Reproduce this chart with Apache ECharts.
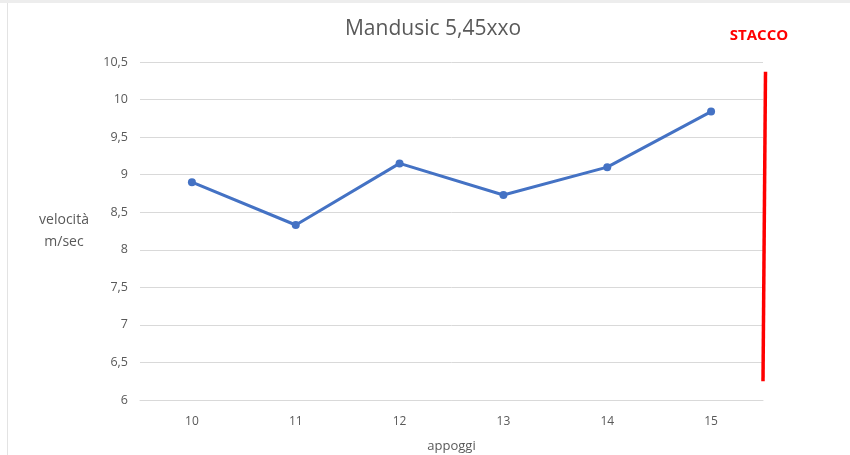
<!DOCTYPE html>
<html>
<head>
<meta charset="utf-8">
<script src="https://cdn.jsdelivr.net/npm/echarts@6/dist/echarts.min.js"></script>
<style>
  html, body { margin: 0; padding: 0; background: #fff; }
  #chart { width: 850px; height: 455px; }
</style>
</head>
<body>
<div id="chart"></div>
<script>
// Number of support steps before take-off and the speed at each one (m/s)
const appoggi = ['10', '11', '12', '13', '14', '15'];
const velocita = [8.9, 8.33, 9.15, 8.73, 9.1, 9.84];
// Vertical extent of the take-off marker, in axis units
const staccoRange = [10.37, 6.25];

const fmt = v => String(v).replace('.', ',');
const FONT = '"Open Sans", "Liberation Sans", sans-serif';

const chart = echarts.init(document.getElementById('chart'));

chart.setOption({
  animation: false,
  backgroundColor: '#ffffff',
  title: {
    text: 'Mandusic 5,45xxo',
    left: 428,
    top: 14,
    textAlign: 'center',
    textStyle: { color: '#595959', fontSize: 21, fontWeight: 'normal', fontFamily: FONT }
  },
  grid: { left: 140, right: 87, top: 62, bottom: 55, outerBoundsMode: 'none', containLabel: false },
  xAxis: {
    type: 'category',
    data: appoggi,
    boundaryGap: true,
    name: 'appoggi',
    nameLocation: 'middle',
    nameGap: 40,
    nameTextStyle: { color: '#595959', fontSize: 13, fontFamily: FONT },
    axisLine: { lineStyle: { color: '#d9d9d9', width: 1 } },
    axisTick: { show: false },
    axisLabel: { color: '#595959', fontSize: 12, margin: 16, fontFamily: FONT }
  },
  yAxis: {
    type: 'value',
    min: 6,
    max: 10.5,
    interval: 0.5,
    name: 'velocità\nm/sec',
    nameLocation: 'middle',
    nameRotate: 0,
    nameGap: 76,
    nameTextStyle: { color: '#595959', fontSize: 14, align: 'center', lineHeight: 22, padding: [4, 0, 0, 0], fontFamily: FONT },
    axisLine: { show: false },
    axisTick: { show: false },
    axisLabel: { color: '#595959', fontSize: 12.5, margin: 12, formatter: fmt, fontFamily: FONT },
    splitLine: { lineStyle: { color: '#d9d9d9', width: 1 } }
  },
  series: [{
    type: 'line',
    data: velocita,
    symbol: 'circle',
    symbolSize: 8,
    lineStyle: { color: '#4472c4', width: 3 },
    itemStyle: { color: '#4472c4' }
  }]
});

// Take-off marker: a red bar just past the last step, plus its label
const x15 = chart.convertToPixel({ xAxisIndex: 0 }, '15');
const x14 = chart.convertToPixel({ xAxisIndex: 0 }, '14');
const xMark = x15 + (x15 - x14) / 2 + 1;
const yTop = chart.convertToPixel({ yAxisIndex: 0 }, staccoRange[0]);
const yBot = chart.convertToPixel({ yAxisIndex: 0 }, staccoRange[1]);

chart.setOption({
  graphic: [
    { type: 'rect', shape: { x: 0, y: 0, width: 850, height: 3 }, style: { fill: '#ededed' }, silent: true },
    { type: 'line', shape: { x1: 7.5, y1: 3, x2: 7.5, y2: 455 }, style: { stroke: '#e3e3e3', lineWidth: 1 }, silent: true },
    {
      type: 'line',
      shape: { x1: xMark + 1.5, y1: yTop, x2: xMark - 1, y2: yBot },
      style: { stroke: '#ff0000', lineWidth: 3.5 },
      silent: true
    },
    {
      type: 'text',
      x: 759, y: 36,
      style: {
        text: 'STACCO', fill: '#ff0000', font: 'bold 15px ' + FONT,
        textAlign: 'center', textVerticalAlign: 'middle'
      },
      silent: true
    }
  ]
});
</script>
</body>
</html>
